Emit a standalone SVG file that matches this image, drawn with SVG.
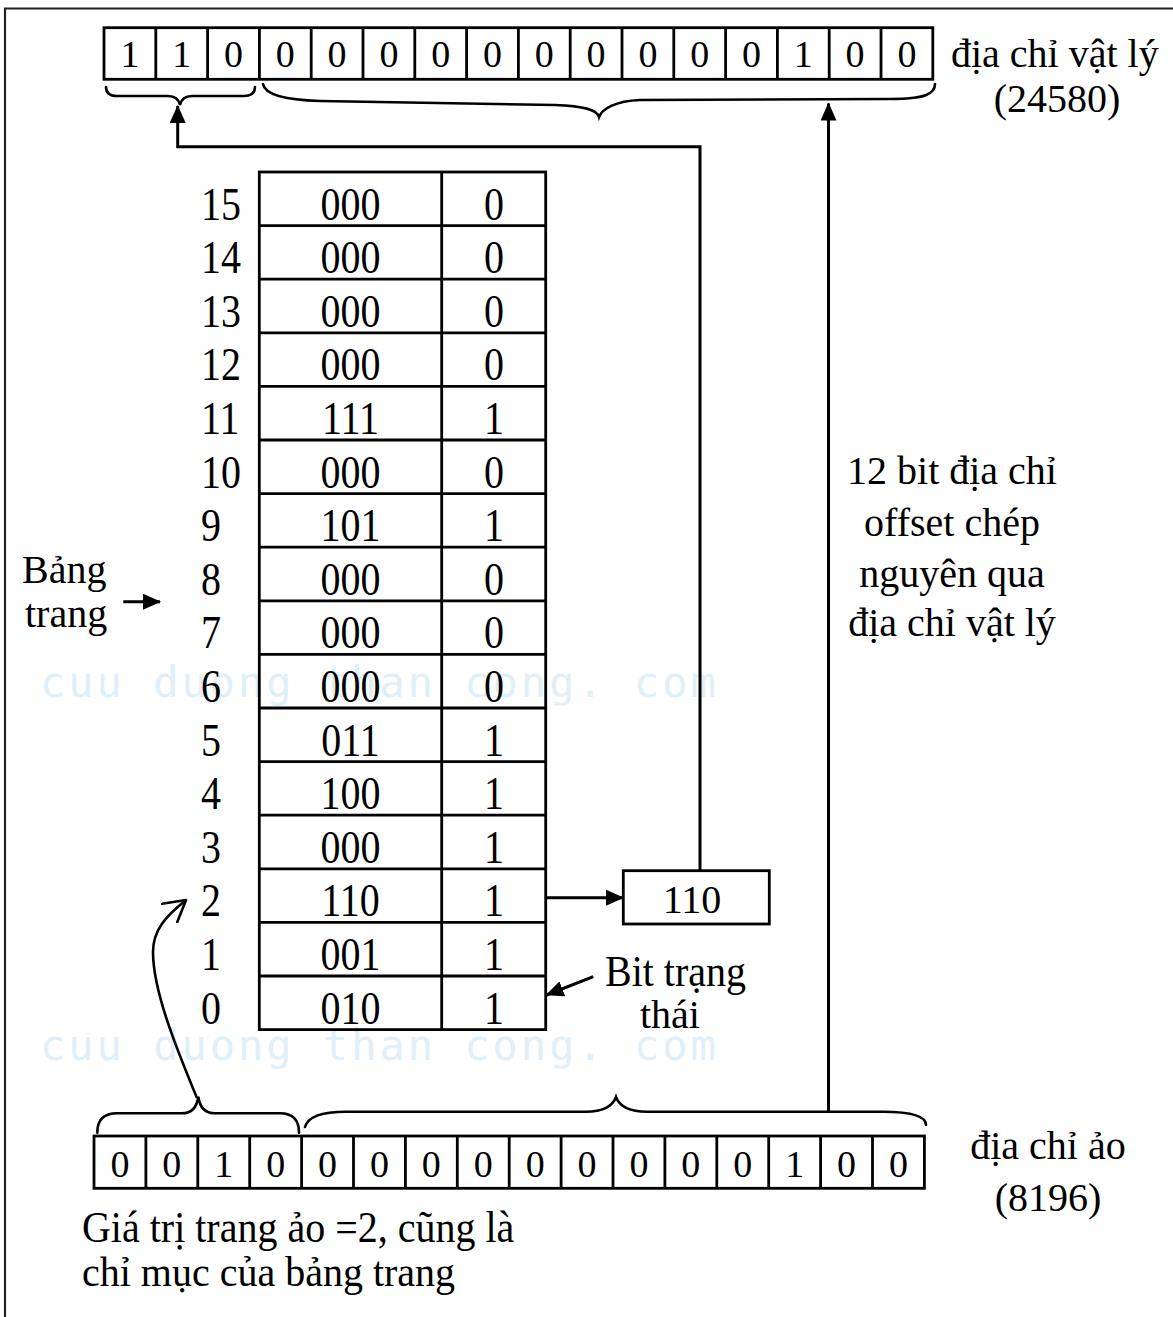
<svg xmlns="http://www.w3.org/2000/svg" width="1173" height="1317" viewBox="0 0 1173 1317">
<defs>
<style>
.t{font-family:"Liberation Serif","Times New Roman",serif;font-size:40px;fill:#000}
.m{text-anchor:middle}
.d{font-family:"Liberation Serif","Times New Roman",serif;font-size:38px;fill:#000;text-anchor:middle}
.box{fill:none;stroke:#000;stroke-width:2.8}
.ln{fill:none;stroke:#000;stroke-width:3}
.br{fill:none;stroke:#000;stroke-width:2.6;stroke-linecap:round}
.wm{font-family:"DejaVu Sans Mono",monospace;font-size:42px;letter-spacing:3px;fill:#e0eff8}
</style>
<marker id="ah" viewBox="0 0 18 16" refX="17" refY="8" markerWidth="18" markerHeight="16" markerUnits="userSpaceOnUse" orient="auto"><path d="M0,0 L18,8 L0,16 Z" fill="#000"/></marker>
<marker id="oa" viewBox="0 0 24 26" refX="22" refY="13" markerWidth="24" markerHeight="26" markerUnits="userSpaceOnUse" orient="auto"><path d="M1,1 L22,13 L1,25" fill="none" stroke="#000" stroke-width="2.6" stroke-linecap="round" stroke-linejoin="round"/></marker>
</defs>
<rect width="1173" height="1317" fill="#fff"/>

<g id="watermark">
<text class="wm" x="40" y="697">cuu duong than cong. com</text>
<text class="wm" x="40" y="1060">cuu duong than cong. com</text>
</g>

<path d="M5,1317 V8.5 H1173" fill="none" stroke="#222" stroke-width="2.2"/>

<g id="physical-address">
<rect class="box" x="104" y="27.7" width="828.8" height="51.6"/>
<path class="box" d="M155.8,27.7V79.3M207.6,27.7V79.3M259.4,27.7V79.3M311.2,27.7V79.3M363,27.7V79.3M414.8,27.7V79.3M466.6,27.7V79.3M518.4,27.7V79.3M570.2,27.7V79.3M622,27.7V79.3M673.8,27.7V79.3M725.6,27.7V79.3M777.4,27.7V79.3M829.2,27.7V79.3M881,27.7V79.3"/>
<text class="d" y="66.7"><tspan x="129.9">1</tspan><tspan x="181.7">1</tspan><tspan x="233.5">0</tspan><tspan x="285.3">0</tspan><tspan x="337.1">0</tspan><tspan x="388.9">0</tspan><tspan x="440.7">0</tspan><tspan x="492.5">0</tspan><tspan x="544.3">0</tspan><tspan x="596.1">0</tspan><tspan x="647.9">0</tspan><tspan x="699.7">0</tspan><tspan x="751.5">0</tspan><tspan x="803.3">1</tspan><tspan x="855.1">0</tspan><tspan x="906.9">0</tspan></text>
</g>

<g id="physical-label">
<text class="t" x="951" y="67">địa chỉ vật lý</text>
<text class="t m" x="1057" y="112">(24580)</text>
</g>

<g id="page-table">
<rect class="box" x="259.3" y="172" width="286.4" height="857.6"/>
<path class="box" d="M441.7,172V1029.6M259.3,225.6H545.7M259.3,279.2H545.7M259.3,332.8H545.7M259.3,386.4H545.7M259.3,440H545.7M259.3,493.6H545.7M259.3,547.2H545.7M259.3,600.8H545.7M259.3,654.4H545.7M259.3,708H545.7M259.3,761.6H545.7M259.3,815.2H545.7M259.3,868.8H545.7M259.3,922.4H545.7M259.3,976H545.7"/>
<g class="t">
<g transform="matrix(1 0 0 1.15 0 -32.94)"><text x="201" y="219.6">15</text><text class="m" x="350.5" y="219.6">000</text><text class="m" x="494" y="219.6">0</text></g>
<g transform="matrix(1 0 0 1.15 0 -40.98)"><text x="201" y="273.2">14</text><text class="m" x="350.5" y="273.2">000</text><text class="m" x="494" y="273.2">0</text></g>
<g transform="matrix(1 0 0 1.15 0 -49.02)"><text x="201" y="326.8">13</text><text class="m" x="350.5" y="326.8">000</text><text class="m" x="494" y="326.8">0</text></g>
<g transform="matrix(1 0 0 1.15 0 -57.06)"><text x="201" y="380.4">12</text><text class="m" x="350.5" y="380.4">000</text><text class="m" x="494" y="380.4">0</text></g>
<g transform="matrix(1 0 0 1.15 0 -65.1)"><text x="201" y="434">11</text><text class="m" x="350.5" y="434">111</text><text class="m" x="494" y="434">1</text></g>
<g transform="matrix(1 0 0 1.15 0 -73.14)"><text x="201" y="487.6">10</text><text class="m" x="350.5" y="487.6">000</text><text class="m" x="494" y="487.6">0</text></g>
<g transform="matrix(1 0 0 1.15 0 -81.18)"><text x="201" y="541.2">9</text><text class="m" x="350.5" y="541.2">101</text><text class="m" x="494" y="541.2">1</text></g>
<g transform="matrix(1 0 0 1.15 0 -89.22)"><text x="201" y="594.8">8</text><text class="m" x="350.5" y="594.8">000</text><text class="m" x="494" y="594.8">0</text></g>
<g transform="matrix(1 0 0 1.15 0 -97.26)"><text x="201" y="648.4">7</text><text class="m" x="350.5" y="648.4">000</text><text class="m" x="494" y="648.4">0</text></g>
<g transform="matrix(1 0 0 1.15 0 -105.3)"><text x="201" y="702">6</text><text class="m" x="350.5" y="702">000</text><text class="m" x="494" y="702">0</text></g>
<g transform="matrix(1 0 0 1.15 0 -113.34)"><text x="201" y="755.6">5</text><text class="m" x="350.5" y="755.6">011</text><text class="m" x="494" y="755.6">1</text></g>
<g transform="matrix(1 0 0 1.15 0 -121.38)"><text x="201" y="809.2">4</text><text class="m" x="350.5" y="809.2">100</text><text class="m" x="494" y="809.2">1</text></g>
<g transform="matrix(1 0 0 1.15 0 -129.42)"><text x="201" y="862.8">3</text><text class="m" x="350.5" y="862.8">000</text><text class="m" x="494" y="862.8">1</text></g>
<g transform="matrix(1 0 0 1.15 0 -137.46)"><text x="201" y="916.4">2</text><text class="m" x="350.5" y="916.4">110</text><text class="m" x="494" y="916.4">1</text></g>
<g transform="matrix(1 0 0 1.15 0 -145.5)"><text x="201" y="970">1</text><text class="m" x="350.5" y="970">001</text><text class="m" x="494" y="970">1</text></g>
<g transform="matrix(1 0 0 1.15 0 -153.54)"><text x="201" y="1023.6">0</text><text class="m" x="350.5" y="1023.6">010</text><text class="m" x="494" y="1023.6">1</text></g>
</g>
</g>

<g id="page-table-label">
<text class="t" x="22" y="583">Bảng</text>
<text class="t" x="25" y="627">trang</text>
</g>

<g id="frame-box">
<rect class="box" x="623.3" y="870.7" width="146" height="53.3"/>
<text class="t m" x="692" y="912.7">110</text>
</g>

<g id="status-label">
<text class="t" x="605" y="986" transform="matrix(1 0 0 1.12 0 -118.32)">Bit trạng</text>
<text class="t" x="640" y="1028">thái</text>
</g>

<g id="offset-label">
<text class="t m" x="952" y="484">12 bit địa chỉ</text>
<text class="t m" x="952" y="536">offset chép</text>
<text class="t m" x="952" y="587">nguyên qua</text>
<text class="t m" x="952" y="636">địa chỉ vật lý</text>
</g>

<g id="virtual-address">
<rect class="box" x="94" y="1136" width="830.4" height="52.3"/>
<path class="box" d="M145.9,1136V1188.3M197.8,1136V1188.3M249.7,1136V1188.3M301.6,1136V1188.3M353.5,1136V1188.3M405.4,1136V1188.3M457.3,1136V1188.3M509.2,1136V1188.3M561.1,1136V1188.3M613,1136V1188.3M664.9,1136V1188.3M716.8,1136V1188.3M768.7,1136V1188.3M820.6,1136V1188.3M872.5,1136V1188.3"/>
<text class="d" y="1176.7"><tspan x="119.95">0</tspan><tspan x="171.85">0</tspan><tspan x="223.75">1</tspan><tspan x="275.65">0</tspan><tspan x="327.55">0</tspan><tspan x="379.45">0</tspan><tspan x="431.35">0</tspan><tspan x="483.25">0</tspan><tspan x="535.15">0</tspan><tspan x="587.05">0</tspan><tspan x="638.95">0</tspan><tspan x="690.85">0</tspan><tspan x="742.75">0</tspan><tspan x="794.65">1</tspan><tspan x="846.55">0</tspan><tspan x="898.45">0</tspan></text>
</g>

<g id="virtual-label">
<text class="t m" x="1048" y="1159">địa chỉ ảo</text>
<text class="t m" x="1048" y="1211">(8196)</text>
</g>

<g id="index-label">
<text class="t" x="82" y="1242" transform="matrix(1 0 0 1.12 0 -149.04)">Giá trị trang ảo =2, cũng là</text>
<text class="t" x="82" y="1286" transform="matrix(1 0 0 1.08 0 -102.88)">chỉ mục của bảng trang</text>
</g>

<g id="braces">
<path class="br" d="M106,87 Q106,96 117,96 L168,96 Q178,96 180,105 Q182,96 192,96 L244,96 Q255,96 255,87"/>
<path class="br" d="M263,84 C265,95 285,100 320,101 L555,105 C585,106 597,110 599,117 C602,109 615,101 640,100 L890,99 C925,99 935,94 935,84"/>
<path class="br" d="M97.3,1132.7 Q97.3,1113.3 117,1113.3 L182,1113.3 Q196,1113.3 198.3,1096.7 Q200.6,1113.3 215,1113.3 L280,1113.3 Q299,1113.3 299,1132.7"/>
<path class="br" d="M305,1127 C308,1116 325,1111.7 346,1111.7 L586,1111.7 C605,1111.7 613,1105 616,1097 C619,1105 627,1111.7 647,1111.7 L883,1111.7 C910,1111.7 926,1116 926,1125"/>
</g>

<g id="connectors">
<path class="ln" d="M700,870.7 V146.7 H177.7 V106" marker-end="url(#ah)"/>
<path class="ln" d="M828.5,1111.7 V103.5" marker-end="url(#ah)"/>
<path class="ln" d="M545.7,897.7 H623" marker-end="url(#ah)"/>
<path class="ln" d="M123.3,601.7 H160" marker-end="url(#ah)"/>
<path class="ln" d="M593.3,976.7 L546.5,995" marker-end="url(#ah)"/>
<path class="ln" style="stroke-width:2.6" d="M197,1098 C175,1045 153,990 153,952 C153,930 166,916 186,900" marker-end="url(#oa)"/>
</g>
</svg>
